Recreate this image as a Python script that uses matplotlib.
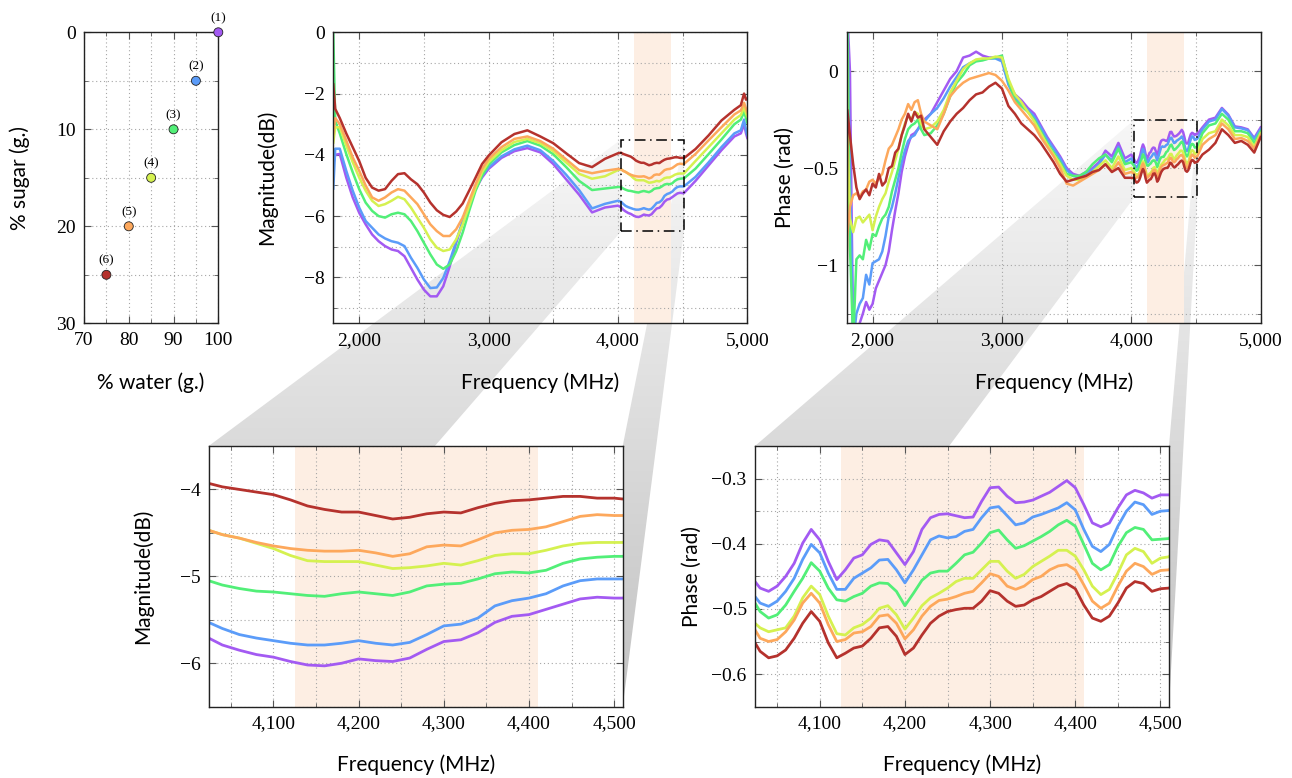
import numpy as np
import matplotlib
matplotlib.use("Agg")
import matplotlib.pyplot as plt
from matplotlib.patches import Polygon, Rectangle
from matplotlib.ticker import MultipleLocator, FuncFormatter
from matplotlib.colors import LinearSegmentedColormap

# ---------------- data ----------------
labels = ["(1)", "(2)", "(3)", "(4)", "(5)", "(6)"]
water = [100, 95, 90, 85, 80, 75]
sugar = [0, 5, 10, 15, 20, 25]
colors = ["#a35af2", "#5b9cf9", "#52ef78", "#d5f150", "#fda85c", "#b5322d"]

zoom_f = (4024, 4510)
zoom_mag = (-6.5, -3.5)
zoom_ph = (-0.65, -0.25)
band = (4125, 4410)

mag_freq = [1800, 1815, 1850, 1900, 1950, 2000, 2050, 2100, 2150, 2200, 2250, 2300,
            2350, 2400, 2450, 2500, 2550, 2600, 2650, 2700, 2750, 2800, 2850, 2900,
            2950, 3000, 3100, 3200, 3300, 3400, 3500, 3600, 3700, 3800, 3900, 4000,
            4024, 4040, 4060, 4080, 4100, 4120, 4140, 4160, 4180, 4200, 4220, 4240,
            4260, 4280, 4300, 4320, 4340, 4360, 4380, 4400, 4420, 4440, 4460, 4480,
            4500, 4510, 4600, 4700, 4800, 4900, 4950, 4975, 4990, 5000]

mag_purple = [-4.3, -4.0, -3.97, -4.74, -5.39, -5.89, -6.27, -6.6, -6.82, -6.98, -7.09, -7.14,
              -7.31, -7.69, -8.07, -8.4, -8.62, -8.62, -8.29, -7.64, -6.87, -6.21, -5.61, -5.12,
              -4.74, -4.46, -4.1, -3.88, -3.78, -3.92, -4.3, -4.8, -5.3, -5.88, -5.72, -5.66,
              -5.71, -5.79, -5.85, -5.9, -5.93, -5.98, -6.02, -6.03, -6.0, -5.95, -5.97, -5.98,
              -5.94, -5.84, -5.75, -5.73, -5.65, -5.53, -5.46, -5.44, -5.38, -5.32, -5.26, -5.24,
              -5.25, -5.25, -4.85, -4.35, -3.85, -3.4, -3.3, -3.0, -3.3, -3.45]
mag_blue = [-5.1, -3.8, -3.8, -4.52, -5.17, -5.72, -6.16, -6.38, -6.6, -6.73, -6.82, -6.87,
            -6.98, -7.36, -7.69, -8.07, -8.35, -8.33, -8.02, -7.47, -6.82, -6.16, -5.56, -5.07,
            -4.68, -4.41, -4.05, -3.82, -3.7, -3.85, -4.2, -4.65, -5.15, -5.75, -5.6, -5.5,
            -5.53, -5.6, -5.67, -5.71, -5.74, -5.77, -5.79, -5.79, -5.77, -5.74, -5.77, -5.79,
            -5.76, -5.67, -5.57, -5.55, -5.48, -5.34, -5.28, -5.25, -5.2, -5.11, -5.05, -5.03,
            -5.03, -5.03, -4.72, -4.25, -3.75, -3.3, -3.2, -2.85, -3.2, -3.35]
mag_green = [-0.05, -2.9, -3.3, -3.97, -4.57, -5.12, -5.56, -5.83, -6.0, -6.05, -5.94, -5.89,
             -5.94, -6.16, -6.49, -6.87, -7.25, -7.58, -7.72, -7.58, -7.14, -6.54, -5.83, -5.17,
             -4.68, -4.32, -3.92, -3.68, -3.55, -3.7, -3.98, -4.4, -4.85, -5.15, -5.1, -5.05,
             -5.05, -5.1, -5.14, -5.17, -5.18, -5.2, -5.22, -5.23, -5.2, -5.18, -5.2, -5.22,
             -5.18, -5.11, -5.09, -5.08, -5.03, -4.97, -4.95, -4.96, -4.93, -4.85, -4.8, -4.78,
             -4.77, -4.77, -4.45, -3.98, -3.5, -3.0, -2.85, -2.6, -2.8, -2.95]
mag_yellow = [-3.6, -3.1, -3.1, -3.7, -4.24, -4.74, -5.17, -5.5, -5.67, -5.61, -5.5, -5.37,
              -5.45, -5.72, -6.05, -6.38, -6.76, -7.03, -7.14, -7.09, -6.76, -6.27, -5.67, -5.07,
              -4.57, -4.24, -3.85, -3.58, -3.48, -3.62, -3.88, -4.25, -4.62, -4.78, -4.7, -4.5,
              -4.47, -4.52, -4.56, -4.62, -4.68, -4.76, -4.82, -4.83, -4.83, -4.83, -4.87, -4.91,
              -4.9, -4.88, -4.85, -4.87, -4.82, -4.76, -4.74, -4.74, -4.7, -4.65, -4.62, -4.61,
              -4.61, -4.61, -4.2, -3.75, -3.3, -2.85, -2.7, -2.45, -2.65, -2.75]
mag_orange = [-3.3, -2.8, -3.0, -3.53, -4.08, -4.52, -5.0, -5.39, -5.5, -5.39, -5.23, -5.12,
              -5.17, -5.39, -5.61, -5.94, -6.27, -6.49, -6.65, -6.65, -6.43, -6.05, -5.5, -4.96,
              -4.46, -4.14, -3.75, -3.48, -3.4, -3.55, -3.8, -4.15, -4.5, -4.6, -4.52, -4.46,
              -4.47, -4.52, -4.56, -4.61, -4.65, -4.68, -4.7, -4.71, -4.71, -4.7, -4.73, -4.77,
              -4.74, -4.66, -4.64, -4.65, -4.58, -4.5, -4.47, -4.46, -4.43, -4.37, -4.31, -4.29,
              -4.3, -4.3, -3.97, -3.53, -3.1, -2.68, -2.55, -2.3, -2.5, -2.6]
mag_red = [-1.7, -2.5, -2.8, -3.3, -3.75, -4.2, -4.75, -5.07, -5.17, -5.12, -4.85, -4.63,
           -4.6, -4.8, -4.96, -5.23, -5.56, -5.81, -5.96, -6.03, -5.85, -5.59, -5.17, -4.74,
           -4.3, -4.03, -3.59, -3.32, -3.2, -3.4, -3.62, -3.95, -4.27, -4.4, -4.13, -3.95,
           -3.93, -3.97, -4.0, -4.03, -4.06, -4.12, -4.19, -4.23, -4.26, -4.26, -4.3, -4.34,
           -4.32, -4.28, -4.26, -4.27, -4.21, -4.16, -4.13, -4.12, -4.1, -4.08, -4.08, -4.1,
           -4.1, -4.11, -3.81, -3.37, -2.88, -2.53, -2.38, -2.0, -2.2, -2.17]

ph_freq = [1800, 1805, 1825, 1850, 1875, 1900, 1925, 1950, 1975, 2000, 2025, 2050, 2075,
           2100, 2125, 2150, 2175, 2200, 2225, 2250, 2275, 2300, 2325, 2350, 2375, 2400,
           2450, 2500, 2550, 2600, 2650, 2700, 2750, 2800, 2850, 2900, 2950, 3000, 3050,
           3100, 3150, 3200, 3250, 3300, 3350, 3400, 3450, 3500, 3550, 3600, 3650, 3700,
           3750, 3800, 3850, 3900, 3950, 4000,
           4024, 4030, 4040, 4050, 4060, 4070, 4080, 4090, 4100, 4110, 4120, 4130, 4140,
           4150, 4160, 4170, 4180, 4190, 4200, 4210, 4220, 4230, 4240, 4250, 4260, 4270,
           4280, 4290, 4300, 4310, 4320, 4330, 4340, 4350, 4360, 4370, 4380, 4390, 4400,
           4410, 4420, 4430, 4440, 4450, 4460, 4470, 4480, 4490, 4500, 4510,
           4550, 4600, 4650, 4700, 4750, 4800, 4850, 4900, 4950, 5000]

ph_purple = [0.3, 0.3, 0.0, -1.4, -1.4, -1.3, -1.25, -1.19, -1.23, -1.2, -1.12, -1.08, -1.04,
             -1.0, -0.93, -0.82, -0.72, -0.63, -0.52, -0.44, -0.38, -0.33, -0.32, -0.3, -0.27, -0.25,
             -0.22, -0.16, -0.1, -0.04, 0.0, 0.07, 0.08, 0.1, 0.08, 0.07, 0.07, 0.06, -0.06,
             -0.12, -0.15, -0.19, -0.22, -0.28, -0.34, -0.39, -0.44, -0.5, -0.53, -0.54, -0.52, -0.5,
             -0.47, -0.41, -0.44, -0.37, -0.45, -0.43,
             -0.458, -0.468, -0.473, -0.465, -0.45, -0.43, -0.399, -0.378, -0.394, -0.427, -0.455, -0.44, -0.422,
             -0.417, -0.401, -0.394, -0.396, -0.414, -0.432, -0.412, -0.378, -0.36, -0.355, -0.354, -0.357, -0.36,
             -0.359, -0.335, -0.314, -0.313, -0.327, -0.337, -0.336, -0.333, -0.327, -0.321, -0.312, -0.303, -0.314,
             -0.34, -0.368, -0.374, -0.368, -0.345, -0.325, -0.318, -0.322, -0.33, -0.325, -0.325,
             -0.29, -0.25, -0.24, -0.19, -0.225, -0.285, -0.29, -0.3, -0.345, -0.29]
ph_blue = [0.3, 0.3, -0.5, -1.4, -1.25, -1.2, -1.17, -1.05, -1.1, -0.99, -0.98, -0.97, -0.93,
           -0.85, -0.75, -0.7, -0.63, -0.55, -0.47, -0.41, -0.36, -0.34, -0.33, -0.3, -0.28, -0.26,
           -0.22, -0.19, -0.14, -0.08, -0.03, 0.02, 0.04, 0.055, 0.06, 0.065, 0.065, 0.05, -0.07,
           -0.14, -0.17, -0.2, -0.235, -0.29, -0.35, -0.4, -0.45, -0.51, -0.54, -0.55, -0.53, -0.51,
           -0.48, -0.43, -0.46, -0.39, -0.47, -0.45,
           -0.481, -0.491, -0.496, -0.488, -0.473, -0.453, -0.424, -0.401, -0.414, -0.445, -0.47, -0.47, -0.453,
           -0.445, -0.437, -0.425, -0.424, -0.44, -0.46, -0.44, -0.417, -0.394, -0.388, -0.391, -0.389, -0.381,
           -0.378, -0.36, -0.345, -0.343, -0.357, -0.371, -0.368, -0.359, -0.355, -0.35, -0.345, -0.337, -0.348,
           -0.378, -0.404, -0.412, -0.401, -0.373, -0.35, -0.336, -0.34, -0.355, -0.35, -0.349,
           -0.3, -0.26, -0.25, -0.195, -0.23, -0.29, -0.295, -0.305, -0.35, -0.3]
ph_green = [-1.4, 0.25, -0.9, -1.4, -0.97, -0.95, -0.97, -0.87, -0.92, -0.84, -0.85, -0.8, -0.76,
            -0.74, -0.7, -0.62, -0.56, -0.5, -0.42, -0.35, -0.3, -0.28, -0.27, -0.25, -0.3, -0.33,
            -0.32, -0.28, -0.22, -0.13, -0.06, -0.02, 0.03, 0.05, 0.055, 0.065, 0.07, 0.08, -0.05,
            -0.15, -0.18, -0.21, -0.25, -0.31, -0.37, -0.42, -0.47, -0.53, -0.54, -0.54, -0.52, -0.48,
            -0.45, -0.43, -0.47, -0.4, -0.48, -0.47,
            -0.491, -0.504, -0.514, -0.509, -0.494, -0.473, -0.453, -0.429, -0.442, -0.468, -0.486, -0.488, -0.481,
            -0.476, -0.465, -0.46, -0.461, -0.473, -0.495, -0.476, -0.456, -0.445, -0.442, -0.442, -0.43, -0.417,
            -0.413, -0.399, -0.383, -0.379, -0.394, -0.407, -0.403, -0.396, -0.389, -0.381, -0.371, -0.364, -0.373,
            -0.401, -0.43, -0.44, -0.432, -0.404, -0.383, -0.375, -0.378, -0.394, -0.393, -0.392,
            -0.32, -0.28, -0.27, -0.22, -0.25, -0.31, -0.31, -0.32, -0.37, -0.31]
ph_yellow = [0.25, -0.3, -0.76, -0.83, -0.76, -0.75, -0.78, -0.76, -0.74, -0.82, -0.75, -0.7, -0.66,
             -0.63, -0.57, -0.52, -0.46, -0.4, -0.33, -0.27, -0.23, -0.25, -0.21, -0.22, -0.27, -0.3,
             -0.29, -0.26, -0.2, -0.11, -0.05, 0.01, 0.04, 0.06, 0.065, 0.065, 0.075, 0.07, -0.04,
             -0.12, -0.16, -0.21, -0.26, -0.32, -0.38, -0.43, -0.48, -0.54, -0.56, -0.56, -0.54, -0.52,
             -0.49, -0.46, -0.5, -0.44, -0.51, -0.5,
             -0.522, -0.529, -0.535, -0.532, -0.529, -0.511, -0.483, -0.465, -0.478, -0.511, -0.538, -0.54, -0.529,
             -0.524, -0.514, -0.499, -0.495, -0.509, -0.531, -0.514, -0.495, -0.483, -0.476, -0.468, -0.458, -0.453,
             -0.453, -0.44, -0.427, -0.427, -0.442, -0.453, -0.447, -0.435, -0.427, -0.419, -0.41, -0.41, -0.419,
             -0.44, -0.465, -0.478, -0.47, -0.445, -0.417, -0.407, -0.412, -0.43, -0.422, -0.42,
             -0.35, -0.32, -0.31, -0.25, -0.28, -0.33, -0.33, -0.34, -0.39, -0.32]
ph_orange = [-1.02, -0.85, -0.7, -0.64, -0.63, -0.65, -0.62, -0.61, -0.57, -0.56, -0.58, -0.55, -0.53,
             -0.46, -0.4, -0.38, -0.34, -0.3, -0.25, -0.22, -0.17, -0.2, -0.16, -0.15, -0.22, -0.26,
             -0.28, -0.3, -0.22, -0.13, -0.09, -0.06, -0.04, -0.03, -0.02, -0.01, -0.02, -0.05, -0.1,
             -0.16, -0.2, -0.24, -0.28, -0.34, -0.39, -0.44, -0.5, -0.58, -0.59, -0.57, -0.55, -0.53,
             -0.51, -0.48, -0.52, -0.47, -0.53, -0.52,
             -0.532, -0.545, -0.55, -0.547, -0.535, -0.517, -0.491, -0.476, -0.491, -0.524, -0.55, -0.547, -0.537,
             -0.535, -0.527, -0.511, -0.509, -0.522, -0.546, -0.532, -0.511, -0.496, -0.487, -0.485, -0.481, -0.476,
             -0.473, -0.46, -0.446, -0.45, -0.465, -0.47, -0.465, -0.455, -0.45, -0.44, -0.434, -0.432, -0.44,
             -0.463, -0.488, -0.499, -0.491, -0.465, -0.442, -0.43, -0.435, -0.447, -0.441, -0.44,
             -0.38, -0.35, -0.33, -0.27, -0.3, -0.35, -0.345, -0.36, -0.4, -0.33]
ph_red = [-0.72, -0.2, -0.33, -0.48, -0.6, -0.66, -0.63, -0.61, -0.64, -0.58, -0.6, -0.53, -0.59,
          -0.57, -0.5, -0.49, -0.42, -0.4, -0.33, -0.28, -0.22, -0.26, -0.21, -0.24, -0.23, -0.3,
          -0.34, -0.38, -0.31, -0.26, -0.22, -0.19, -0.15, -0.12, -0.11, -0.08, -0.06, -0.09, -0.18,
          -0.22, -0.27, -0.3, -0.33, -0.37, -0.42, -0.47, -0.53, -0.57, -0.56, -0.55, -0.54, -0.52,
          -0.51, -0.48, -0.52, -0.5, -0.55, -0.55,
          -0.552, -0.565, -0.575, -0.572, -0.563, -0.545, -0.522, -0.504, -0.519, -0.552, -0.575, -0.568, -0.56,
          -0.557, -0.545, -0.529, -0.527, -0.542, -0.57, -0.56, -0.54, -0.522, -0.511, -0.504, -0.501, -0.499,
          -0.499, -0.488, -0.472, -0.476, -0.488, -0.496, -0.494, -0.486, -0.481, -0.473, -0.465, -0.461, -0.469,
          -0.494, -0.514, -0.519, -0.511, -0.491, -0.468, -0.458, -0.461, -0.473, -0.469, -0.468,
          -0.43, -0.405, -0.37, -0.3, -0.33, -0.37, -0.36, -0.38, -0.42, -0.34]

mag_series = [mag_purple, mag_blue, mag_green, mag_yellow, mag_orange, mag_red]
ph_series = [ph_purple, ph_blue, ph_green, ph_yellow, ph_orange, ph_red]

# ---------------- figure ----------------
W, H = 1292, 778
plt.rcParams["font.family"] = ["Liberation Serif", "DejaVu Serif"]
plt.rcParams["axes.unicode_minus"] = True
LABEL_FONT = dict(family=["Lato", "DejaVu Sans"], size=15)

fig = plt.figure(figsize=(W / 100, H / 100), dpi=100)


def box(l, r, t, b):
    return [l / W, 1 - b / H, (r - l) / W, (b - t) / H]


ax_sc = fig.add_axes(box(84, 218.3, 32.3, 323.3))
ax_mag = fig.add_axes(box(333.3, 747.3, 32.3, 323.3))
ax_ph = fig.add_axes(box(846.7, 1260.7, 32.3, 323.3))
ax_magz = fig.add_axes(box(208.7, 622.7, 446, 706.7))
ax_phz = fig.add_axes(box(755, 1169, 446, 706.7))
bg = fig.add_axes([0, 0, 1, 1], zorder=-5)
bg.axis("off")

for a in (ax_sc, ax_mag, ax_ph):
    a.set_facecolor("none")


def yfmt(v, p):
    if abs(v) < 1e-9:
        v = 0
    return f"{v:g}".replace("-", "\u2212")


def xfmt(v, p):
    return f"{v:,.0f}"


def style(ax, xmaj, xmin, ymaj, ymin, comma=True):
    ax.xaxis.set_major_locator(MultipleLocator(xmaj))
    ax.xaxis.set_minor_locator(MultipleLocator(xmin))
    ax.yaxis.set_major_locator(MultipleLocator(ymaj))
    ax.yaxis.set_minor_locator(MultipleLocator(ymin))
    ax.xaxis.set_major_formatter(FuncFormatter(xfmt if comma else yfmt))
    ax.yaxis.set_major_formatter(FuncFormatter(yfmt))
    ax.tick_params(which="both", direction="in", top=True, right=True,
                   labelsize=14, color="#555555", pad=6)
    ax.tick_params(which="major", length=5, width=0.8)
    ax.tick_params(which="minor", length=3, width=0.6)
    ax.grid(which="both", color="#a6a6a6", linestyle=(0, (1, 2.5)), linewidth=0.8)
    for s in ax.spines.values():
        s.set_linewidth(1.0)
        s.set_color("#222222")


def place_labels(ax, xl, yl, xy, yx):
    ax.set_xlabel(xl, fontdict=LABEL_FONT)
    ax.set_ylabel(yl, fontdict=LABEL_FONT)
    ax.xaxis.set_label_coords(0.5, xy)
    ax.yaxis.set_label_coords(yx, 0.5)
    ax.xaxis.label.set_va("center")
    ax.yaxis.label.set_va("center")


# scatter
ax_sc.scatter(water, sugar, s=42, c=colors, edgecolors="#222222", linewidths=0.6,
              zorder=4, clip_on=False)
for w, s, lab in zip(water, sugar, labels):
    ax_sc.annotate(lab, (w, s), xytext=(0, 6), textcoords="offset points",
                   ha="center", va="bottom", fontsize=9.5)
ax_sc.set_xlim(70, 100)
ax_sc.set_ylim(30, 0)
style(ax_sc, 10, 5, 10, 5, comma=False)
place_labels(ax_sc, "% water (g.)", "% sugar (g.)", -0.205, -0.477)

# magnitude, full and zoom
for ax in (ax_mag, ax_magz):
    ax.axvspan(*band, color="#fdeee3", lw=0, zorder=0.5)
    for vals, c in zip(mag_series, colors):
        ax.plot(mag_freq, vals, color=c, lw=1.8 if ax is ax_mag else 2.0, zorder=2)
ax_mag.set_xlim(1800, 5000)
ax_mag.set_ylim(-9.5, 0)
style(ax_mag, 1000, 500, 2, 1)
place_labels(ax_mag, "Frequency (MHz)", "Magnitude(dB)", -0.204, -0.16)
ax_magz.set_xlim(*zoom_f)
ax_magz.set_ylim(*zoom_mag)
style(ax_magz, 100, 50, 1, 0.5)
place_labels(ax_magz, "Frequency (MHz)", "Magnitude(dB)", -0.224, -0.159)

# phase, full and zoom
for ax in (ax_ph, ax_phz):
    ax.axvspan(*band, color="#fdeee3", lw=0, zorder=0.5)
    for vals, c in zip(ph_series, colors):
        ax.plot(ph_freq, vals, color=c, lw=1.8 if ax is ax_ph else 2.0, zorder=2)
ax_ph.set_xlim(1800, 5000)
ax_ph.set_ylim(-1.3, 0.2)
style(ax_ph, 1000, 500, 0.5, 0.25)
place_labels(ax_ph, "Frequency (MHz)", "Phase (rad)", -0.204, -0.149)
ax_phz.set_xlim(*zoom_f)
ax_phz.set_ylim(*zoom_ph)
style(ax_phz, 100, 50, 0.1, 0.05)
place_labels(ax_phz, "Frequency (MHz)", "Phase (rad)", -0.224, -0.152)

# zoom rectangles + shaded connectors
shade = LinearSegmentedColormap.from_list("shade", ["#c2c2c2", "#f7f7f7"])
grad = np.linspace(0, 1, 256).reshape(-1, 1)
for big, small, yr in ((ax_mag, ax_magz, zoom_mag), (ax_ph, ax_phz, zoom_ph)):
    big.add_patch(Rectangle((zoom_f[0], yr[0]), zoom_f[1] - zoom_f[0], yr[1] - yr[0],
                            fill=False, ec="black", lw=1.1, ls=(0, (7, 3, 1, 3)), zorder=6))
    r_tl = big.transData.transform((zoom_f[0], yr[1]))
    r_bl = big.transData.transform((zoom_f[0], yr[0]))
    r_tr = big.transData.transform((zoom_f[1], yr[1]))
    r_br = big.transData.transform((zoom_f[1], yr[0]))
    s_tl = small.transAxes.transform((0, 1))
    s_bl = small.transAxes.transform((0, 0))
    s_tr = small.transAxes.transform((1, 1))
    s_br = small.transAxes.transform((1, 0))
    for pts in ([r_tl, r_bl, s_bl, s_tl], [r_tr, r_br, s_br, s_tr]):
        poly = Polygon(pts, closed=True, fc="none", ec="none")
        bg.add_patch(poly)
        im = bg.imshow(grad, extent=(0, W, s_bl[1], r_tl[1]), origin="lower", cmap=shade,
                       aspect="auto", interpolation="bilinear", zorder=1)
        im.set_clip_path(poly)
bg.set_xlim(0, W)
bg.set_ylim(0, H)

fig.savefig("out.png", dpi=100)
